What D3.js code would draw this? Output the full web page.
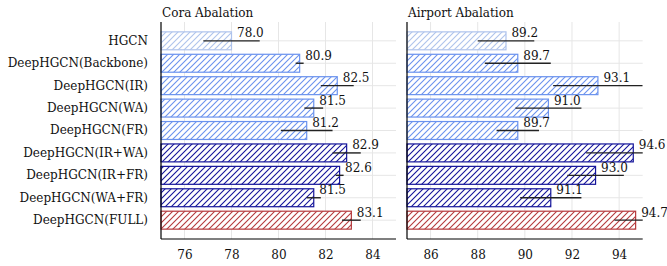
<!DOCTYPE html>
<html>
<head>
<meta charset="utf-8">
<script src="https://cdn.jsdelivr.net/npm/d3@7"></script>
<style>
  body { margin: 0; background: #fff; }
  text { font-family: "DejaVu Serif", serif; }
</style>
</head>
<body>
<div id="chart"></div>
<script>
const categories = ["HGCN", "DeepHGCN(Backbone)", "DeepHGCN(IR)", "DeepHGCN(WA)", "DeepHGCN(FR)",
  "DeepHGCN(IR+WA)", "DeepHGCN(IR+FR)", "DeepHGCN(WA+FR)", "DeepHGCN(FULL)"];
const groups = [0, 1, 1, 1, 1, 2, 2, 2, 3];

const coraValues = [78.0, 80.9, 82.5, 81.5, 81.2, 82.9, 82.6, 81.5, 83.1];
const coraErrors = [1.2, 0.17, 0.7, 0.4, 1.1, 0.6, 0.17, 0.3, 0.4];
const coraTicks = [76, 78, 80, 82, 84];

const airportValues = [89.2, 89.7, 93.1, 91.0, 89.7, 94.6, 93.0, 91.1, 94.7];
const airportErrors = [1.2, 1.4, 1.9, 1.4, 0.9, 2.0, 1.2, 1.3, 0.9];
const airportTicks = [86, 88, 90, 92, 94];

const groupColors = ["#aec3ec", "#6a92ee", "#14149a", "#b5393c"];

const W = 667, H = 266;
const plotTop = 22, plotBottom = 239;

const svg = d3.select("#chart").append("svg")
  .attr("width", W).attr("height", H);

const defs = svg.append("defs");
groupColors.forEach((c, i) => {
  const p = defs.append("pattern")
    .attr("id", "hatch" + i)
    .attr("patternUnits", "userSpaceOnUse")
    .attr("width", 6).attr("height", 6);
  p.append("rect").attr("width", 6).attr("height", 6).attr("fill", "#fff");
  p.append("path")
    .attr("d", "M-1,1 l2,-2 M0,6 l6,-6 M5,7 l2,-2")
    .attr("stroke", c).attr("stroke-width", 1.1);
});

const y = d3.scaleBand().domain(categories).range([plotTop, plotBottom])
  .paddingInner(0.2).paddingOuter(0.44);

function panel(id, title, values, errors, ticks, domain, x0, x1, showLabels) {
  const x = d3.scaleLinear().domain(domain).range([x0, x1]);
  const g = svg.append("g");

  defs.append("clipPath").attr("id", "clip" + id)
    .append("rect").attr("x", x0).attr("y", plotTop).attr("width", x1 - x0).attr("height", plotBottom - plotTop);

  // grid
  g.selectAll(".vgrid").data(ticks).enter().append("line")
    .attr("x1", d => x(d)).attr("x2", d => x(d))
    .attr("y1", plotTop).attr("y2", plotBottom)
    .attr("stroke", "#e6e6e6").attr("stroke-width", 1);
  g.selectAll(".hgrid").data(categories).enter().append("line")
    .attr("x1", x0).attr("x2", x1)
    .attr("y1", d => y(d) + y.bandwidth() / 2).attr("y2", d => y(d) + y.bandwidth() / 2)
    .attr("stroke", "#e6e6e6").attr("stroke-width", 1);

  // bars
  g.selectAll(".bar").data(categories).enter().append("rect")
    .attr("x", x(domain[0]))
    .attr("y", d => y(d))
    .attr("width", (d, i) => x(values[i]) - x(domain[0]))
    .attr("height", y.bandwidth())
    .attr("fill", (d, i) => `url(#hatch${groups[i]})`)
    .attr("stroke", (d, i) => groupColors[groups[i]])
    .attr("stroke-width", 1.2);

  // error bars
  g.append("g").attr("clip-path", `url(#clip${id})`)
    .selectAll("line").data(categories).enter().append("line")
    .attr("x1", (d, i) => x(values[i] - errors[i]))
    .attr("x2", (d, i) => x(values[i] + errors[i]))
    .attr("y1", d => y(d) + y.bandwidth() / 2)
    .attr("y2", d => y(d) + y.bandwidth() / 2)
    .attr("stroke", "#222").attr("stroke-width", 1.4);

  // value labels
  g.selectAll(".val").data(categories).enter().append("text")
    .attr("x", (d, i) => x(values[i]) + 5.5)
    .attr("y", d => y(d) + y.bandwidth() / 2 - 3.5)
    .attr("font-size", 12)
    .attr("font-family", "DejaVu Serif")
    .attr("fill", "#111")
    .text((d, i) => values[i].toFixed(1));

  // axes
  g.append("line").attr("x1", x0).attr("x2", x0).attr("y1", plotTop).attr("y2", plotBottom)
    .attr("stroke", "#000").attr("stroke-width", 1.2);
  g.append("line").attr("x1", x0).attr("x2", x1).attr("y1", plotBottom).attr("y2", plotBottom)
    .attr("stroke", "#000").attr("stroke-width", 1.2);

  const xAxis = g.append("g")
    .attr("transform", `translate(0,${plotBottom})`)
    .call(d3.axisBottom(x).tickValues(ticks).tickSize(0).tickPadding(11).tickFormat(d3.format("d")));
  xAxis.select(".domain").remove();
  xAxis.selectAll("text").attr("font-size", 12).attr("fill", "#111")
    .attr("font-family", "DejaVu Serif");

  if (showLabels) {
    const yAxis = g.append("g")
      .attr("transform", `translate(${x0},0)`)
      .call(d3.axisLeft(y).tickSize(0).tickPadding(13));
    yAxis.select(".domain").remove();
    yAxis.selectAll("text").attr("font-size", 12).attr("fill", "#111")
      .attr("font-family", "DejaVu Serif");
  }

  g.append("text")
    .attr("x", x0 + 1).attr("y", 17)
    .attr("font-size", 12).attr("fill", "#111")
    .attr("font-family", "DejaVu Serif")
    .text(title);
}

panel("c", "Cora Abalation", coraValues, coraErrors, coraTicks, [75, 85], 161, 396, true);
panel("a", "Airport Abalation", airportValues, airportErrors, airportTicks, [85, 95], 407, 642.7, false);
</script>
</body>
</html>
